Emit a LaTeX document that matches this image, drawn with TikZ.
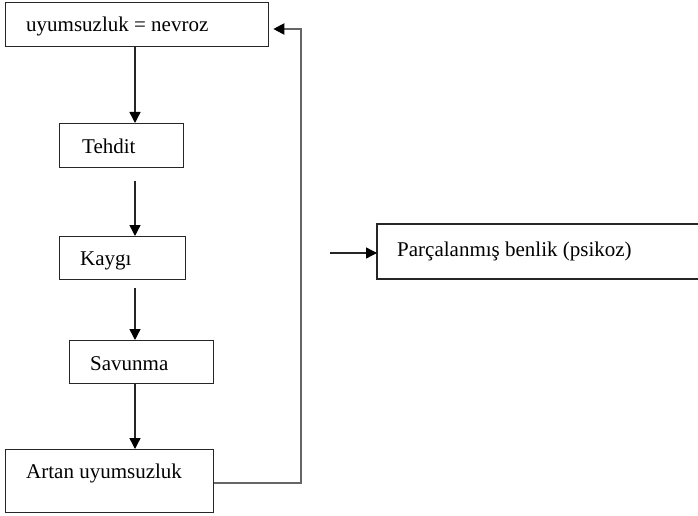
\documentclass[tikz,border=0pt]{standalone}
\usepackage{fontspec}
\setmainfont{Liberation Serif}
\usetikzlibrary{arrows.meta}
\begin{document}
\begin{tikzpicture}[x=1pt,y=-1pt,
  box/.style={draw=black!85,line width=1.3pt,inner sep=0pt,anchor=north west},
  edge/.style={draw=black!85,line width=1.3pt},
  lbl/.style={anchor=base west,inner sep=0pt,font=\fontsize{21}{25}\selectfont},
  arr/.style={draw=black!85,line width=1.4pt,-{Triangle[length=11pt,width=11pt,color=black]}},
  fb/.style={draw=black!60,line width=2pt,-{Triangle[length=11pt,width=11pt,color=black]}}]
\useasboundingbox (0,0) rectangle (698,516);
\fill[white] (0,0) rectangle (698,516);
% boxes
\node[box,minimum width=263pt,minimum height=44pt] (b1) at (5,2) {};
\node[box,minimum width=124pt,minimum height=44pt] (b2) at (59,123) {};
\node[box,minimum width=126pt,minimum height=43pt] (b3) at (59,236) {};
\node[box,minimum width=144pt,minimum height=43pt] (b4) at (69,340) {};
\node[box,minimum width=208pt,minimum height=63pt] (b5) at (5,449) {};
\node[draw=none,inner sep=0pt,outer sep=0pt,anchor=north west,minimum width=330pt,minimum height=55pt] (b6) at (377,224) {};
\draw[edge] (b6.north west -| 702,0) -- (b6.north west) -- (b6.south west) -- (b6.south west -| 702,0);
% labels
\node[lbl] (t1) at (26,32) {uyumsuzluk = nevroz};
\node[lbl] (t2) at (82,153) {Tehdit};
\node[lbl] (t3) at (80,265) {Kaygı};
\node[lbl] (t4) at (90,370) {Savunma};
\node[lbl] (t5) at (26,478) {Artan uyumsuzluk};
\node[lbl] (t6) at (397,256) {Parçalanmış benlik (psikoz)};
% connectors
\coordinate (ax) at (135,0);
\draw[arr] (b1.south -| ax) -- (b2.north -| ax);
\draw[arr,shorten <=13pt] (b2.south -| ax) -- (b3.north -| ax);
\draw[arr,shorten <=8pt] (b3.south -| ax) -- (b4.north -| ax);
\draw[arr] (b4.south -| ax) -- (b5.north -| ax);
\coordinate (fbx) at (301,0);
\draw[fb,shorten >=4pt] (b5.east |- 0,483) -- (fbx |- 0,483) -- (fbx |- 0,29) -- (b1.east |- 0,29);
\coordinate (pin) at (330,253);
\draw[arr] (pin) -- (b6.west |- pin);
\end{tikzpicture}
\end{document}
